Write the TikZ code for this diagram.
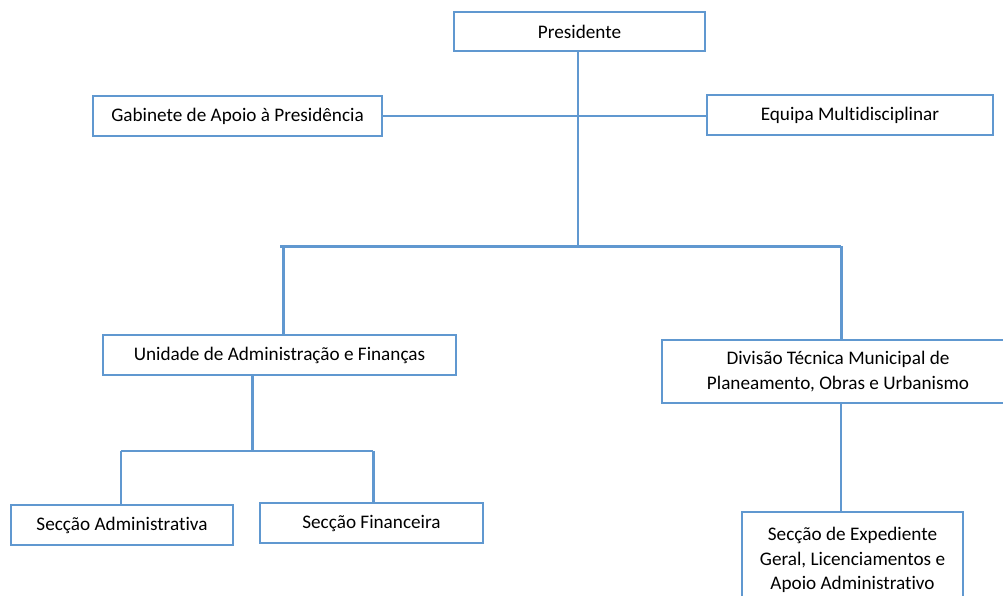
\documentclass[tikz,border=0pt]{standalone}
\usepackage{fontspec}
\setmainfont[Ligatures=NoCommon]{Carlito}
\usepackage{xcolor}
\usepackage{tikz}

\definecolor{orgblue}{RGB}{96,152,208}

\begin{document}
\begin{tikzpicture}[x=1pt, y=-1pt,
    caixa/.style={draw=orgblue, line width=1.6pt, fill=white, inner sep=0pt,
                  align=center, font=\fontsize{19.2}{24.5}\selectfont},
    fino/.style={draw=orgblue, line width=1.5pt},
    grosso/.style={draw=orgblue, line width=3pt}]
                        \useasboundingbox (0,0) rectangle (1003,595);
                        \clip (0,0) rectangle (1003,595);

                        % topo
                        \node (pres) at (579.5,31.5) [caixa, minimum width=251pt, minimum height=39pt] {Presidente};
                        \node (gab) at (237.5,116) [caixa, minimum width=289pt, minimum height=40pt] {Gabinete de Apoio à Presidência};
                        \node (equipa) at (850,115) [caixa, minimum width=286pt, minimum height=40pt] {Equipa Multidisciplinar};

                        % segundo nivel
                        \node (uaf) at (279.5,355) [caixa, minimum width=353pt, minimum height=40pt] {Unidade de Administração e Finanças};
                        \node (dtm) at (838,371.5) [caixa, minimum width=352pt, minimum height=63pt] {Divisão Técnica Municipal de\\Planeamento, Obras e Urbanismo};

                        % seccoes
                        \node (sadm) at (122,525) [caixa, minimum width=222pt, minimum height=40pt] {Secção Administrativa};
                        \node (sfin) at (371.5,523) [caixa, minimum width=223pt, minimum height=40pt] {Secção Financeira};
                        \node (sexp) at (852.5,560) [caixa, minimum width=221pt, minimum height=96pt] {Secção de Expediente\\Geral, Licenciamentos e\\Apoio Administrativo};

                        \coordinate (bus) at (578,246);
                        \coordinate (busL) at (280,246);
                        \coordinate (busR) at (841,246);
                        \coordinate (ramo) at (252,451);
                        \coordinate (ramoL) at (121,451);
                        \coordinate (ramoR) at (373,451);

                        \draw[fino] (gab.east) -- (gab.east -| equipa.west);
                        \draw[fino] (pres.south -| bus) -- (bus);
                        \draw[grosso] (busL) -- (busR);
                        \draw[grosso] (283,246) -- (uaf.north -| 283,0);
                        \draw[grosso] (busR) -- (dtm.north -| busR);
                        \draw[grosso] (uaf.south -| ramo) -- (ramo);
                        \draw[orgblue, line width=2.2pt] (ramoL) -- (ramoR);
                        \draw[fino] (ramoL) -- (sadm.north -| ramoL);
                        \draw[grosso] (ramoR) -- (sfin.north -| ramoR);
                        \draw[fino] (dtm.south -| busR) -- (sexp.north -| busR);
                    \end{tikzpicture}
\end{document}
